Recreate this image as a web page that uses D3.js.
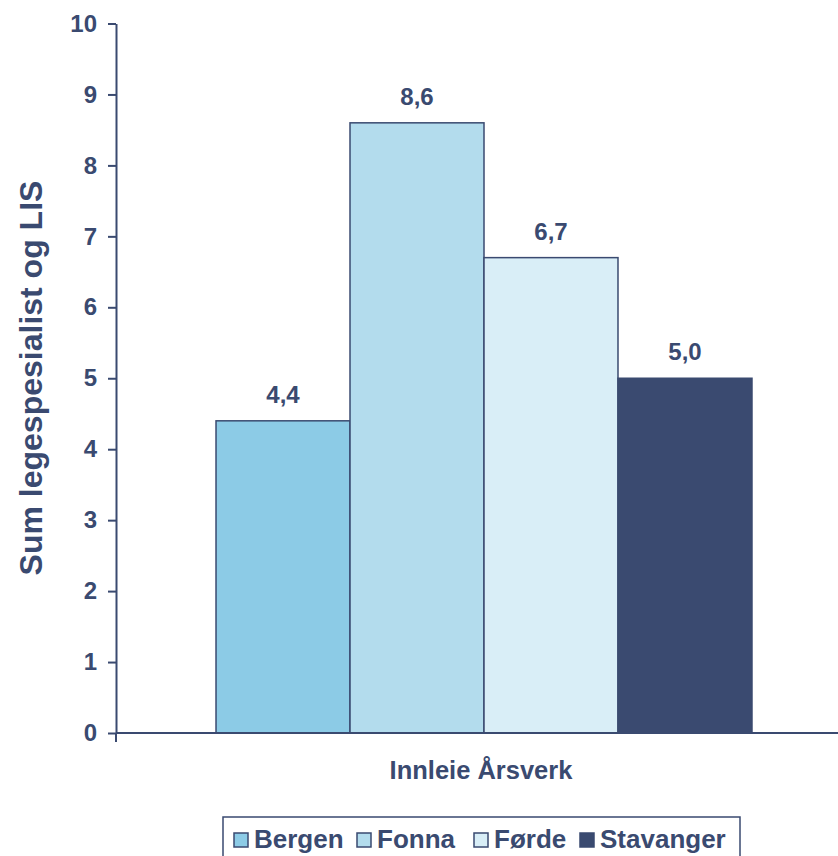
<!DOCTYPE html>
<html>
<head>
<meta charset="utf-8">
<script src="https://cdn.jsdelivr.net/npm/d3@7"></script>
<style>
  html, body { margin: 0; padding: 0; background: #fff; }
  svg { display: block; font-family: "Liberation Sans", Arial, sans-serif; }
</style>
</head>
<body>
<svg id="chart" width="838" height="856"></svg>
<script>
// Innleie årsverk per helseforetak
const category = "Innleie Årsverk";
const series = ["Bergen", "Fonna", "Førde", "Stavanger"];
const values = [4.4, 8.6, 6.7, 5.0];
const colors = ["#8ccbe6", "#b3dced", "#d9eef7", "#3a4a70"];
const yTicks = [0, 1, 2, 3, 4, 5, 6, 7, 8, 9, 10];
const yTitle = "Sum legespesialist og LIS";

const ink = "#3a4a70";
const font = "Liberation Sans, Arial, sans-serif";
const svg = d3.select("#chart");

const plot = { left: 116, right: 852, top: 23.5, bottom: 733 };

const y = d3.scaleLinear().domain([0, 10]).range([plot.bottom, plot.top]);
const xOuter = d3.scaleBand().domain([category]).range([plot.left, plot.right]).paddingInner(0).paddingOuter(0.1866);
const xInner = d3.scaleBand().domain(series).range([0, xOuter.bandwidth()]);

const fmt = v => d3.format(".1f")(v).replace(".", ",");
const data = series.map((s, i) => ({ s, v: values[i], c: colors[i] }));

// bars
const g = svg.append("g");
g.selectAll("rect.bar")
  .data(data)
  .join("rect")
  .attr("class", "bar")
  .attr("x", d => xOuter(category) + xInner(d.s))
  .attr("y", d => y(d.v))
  .attr("width", xInner.bandwidth())
  .attr("height", d => y(0) - y(d.v))
  .attr("fill", d => d.c)
  .attr("stroke", ink)
  .attr("stroke-width", 1.5);

// value labels
g.selectAll("text.val")
  .data(data)
  .join("text")
  .attr("class", "val")
  .attr("x", d => xOuter(category) + xInner(d.s) + xInner.bandwidth() / 2)
  .attr("y", d => y(d.v) - 18)
  .attr("text-anchor", "middle")
  .attr("fill", ink)
  .attr("font-size", 24)
  .attr("font-weight", "bold")
  .text(d => fmt(d.v));

// y axis
const yAxis = d3.axisLeft(y).tickValues(yTicks).tickSize(8).tickSizeOuter(0).tickPadding(11);
const ya = svg.append("g").attr("transform", `translate(${plot.left},0)`).call(yAxis);
ya.attr("font-family", font).attr("font-size", 24);
ya.select(".domain").attr("stroke", ink).attr("stroke-width", 2);
ya.selectAll(".tick line").attr("stroke", ink).attr("stroke-width", 2);
ya.selectAll(".tick text")
  .attr("fill", ink)
  .attr("font-weight", "bold");

// x axis baseline and its end tick
svg.append("line")
  .attr("x1", plot.left).attr("x2", plot.right)
  .attr("y1", y(0)).attr("y2", y(0))
  .attr("stroke", ink).attr("stroke-width", 2);
svg.append("line")
  .attr("x1", plot.left).attr("x2", plot.left)
  .attr("y1", y(0)).attr("y2", y(0) + 9)
  .attr("stroke", ink).attr("stroke-width", 2);

// category label
svg.append("text")
  .attr("x", (plot.left + plot.right) / 2 - 3)
  .attr("y", 779)
  .attr("text-anchor", "middle")
  .attr("fill", ink)
  .attr("font-size", 25.5)
  .attr("font-weight", "bold")
  .text(category);

// y title
svg.append("text")
  .attr("transform", `translate(42,${378}) rotate(-90)`)
  .attr("text-anchor", "middle")
  .attr("fill", ink)
  .attr("font-size", 32)
  .attr("font-weight", "bold")
  .text(yTitle);

// legend
const leg = svg.append("g");
leg.append("rect")
  .attr("x", 223).attr("y", 817).attr("width", 517).attr("height", 50)
  .attr("fill", "#fff").attr("stroke", ink).attr("stroke-width", 1.5);
const legX = [234, 357, 474, 580];
series.forEach((s, i) => {
  leg.append("rect")
    .attr("x", legX[i]).attr("y", 833).attr("width", 14).attr("height", 14)
    .attr("fill", colors[i]).attr("stroke", ink).attr("stroke-width", 1.5);
  leg.append("text")
    .attr("x", legX[i] + 20).attr("y", 848)
    .attr("fill", ink)
    .attr("font-size", 26)
    .attr("font-weight", "bold")
    .text(s);
});
</script>
</body>
</html>
